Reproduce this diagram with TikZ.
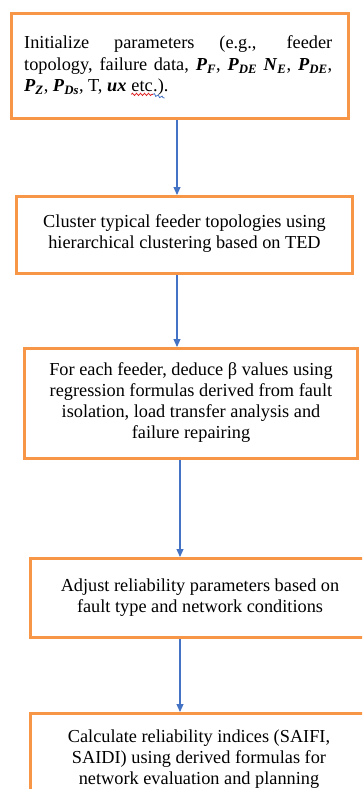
\documentclass[tikz,border=0pt]{standalone}
\usepackage{fontspec}
\setmainfont{Liberation Serif}
\usetikzlibrary{arrows.meta,decorations.pathmorphing}

\definecolor{boxorange}{HTML}{F79646}
\definecolor{linkblue}{HTML}{4472C4}
\definecolor{spellred}{HTML}{E02020}

% bold italic symbols and P with a bold italic subscript
\newcommand{\bv}[1]{\textbf{\textit{#1}}}
\newcommand{\pv}[1]{\bv{P}\textsubscript{\bv{#1}}}

\begin{document}
\begin{tikzpicture}[x=1pt, y=-1pt,
  stepbox/.style={draw=boxorange, line width=3pt, fill=white, inner sep=0pt,
                  anchor=north west, rectangle},
  steptext/.style={font=\fontsize{18.3}{21}\selectfont, align=center, inner sep=0pt},
  lntext/.style={font=\fontsize{18.3}{21}\selectfont, inner sep=0pt, anchor=base west},
  link/.style={draw=linkblue, line width=1.1pt, -{Triangle[width=7pt,length=8pt]}},
  squiggle/.style={line width=0.8pt, decorate,
                   decoration={snake, amplitude=1.1pt, segment length=4pt}}]

\useasboundingbox (0,0) rectangle (362,789);
\clip (0,0) rectangle (362,789);

% boxes
\node[stepbox, minimum width=337pt, minimum height=105pt] (b1) at (10,12) {};
\node[stepbox, minimum width=336pt, minimum height=77pt]  (b2) at (15,195) {};
\node[stepbox, minimum width=333pt, minimum height=110pt] (b3) at (23,347) {};
\node[stepbox, minimum width=339pt, minimum height=79pt]  (b4) at (29,557) {};
\node[stepbox, minimum width=340pt, minimum height=120pt] (b5) at (29,712) {};

% first box: justified lines
\node[lntext] (l1) at (24,49)
  {\makebox[308pt][s]{Initialize parameters (e.g., feeder}};
\node[lntext] (l2) at (24,71)
  {\makebox[308pt][s]{topology, failure data, \pv{F}, \pv{DE} \bv{N}\textsubscript{\bv{E}}, \pv{DE},}};
\node[lntext] (l3) at (24,92)
  {\pv{Z}, \pv{Ds}, T, \bv{ux}};
\node[lntext] (etc) at ([xshift=4.6pt]l3.base east) {etc};
\node[lntext] (cls) at (etc.base east) {.).};
\draw[squiggle, draw=spellred] ([yshift=-2pt]etc.south west) -- ([yshift=-2pt]etc.south east);
\draw[squiggle, draw=linkblue] ([yshift=-2pt]etc.south east) -- ([xshift=-4pt,yshift=-2pt]cls.south east);

% remaining box texts
\node[steptext] (t2) at ([yshift=1.5pt]b2.center)
  {Cluster typical feeder topologies using\\ hierarchical clustering based on TED};
\node[steptext] (t3) at ([yshift=1pt]b3.center)
  {For each feeder, deduce β values using\\ regression formulas derived from fault\\
   isolation, load transfer analysis and\\ failure repairing};
\node[steptext] (t4) at (b4.center)
  {Adjust reliability parameters based on\\ fault type and network conditions};
\node[steptext, anchor=north] (t5) at (199,730)
  {Calculate reliability indices (SAIFI,\\ SAIDI) using derived formulas for\\
   network evaluation and planning};

% connectors
\coordinate (ax1) at (177,0);
\coordinate (ax2) at (180,0);
\draw[link] (b1.south -| ax1) -- (b2.north -| ax1);
\draw[link] (b2.south -| ax1) -- (b3.north -| ax1);
\draw[link] (b3.south -| ax2) -- (b4.north -| ax2);
\draw[link] (b4.south -| ax2) -- (b5.north -| ax2);
\end{tikzpicture}
\end{document}
